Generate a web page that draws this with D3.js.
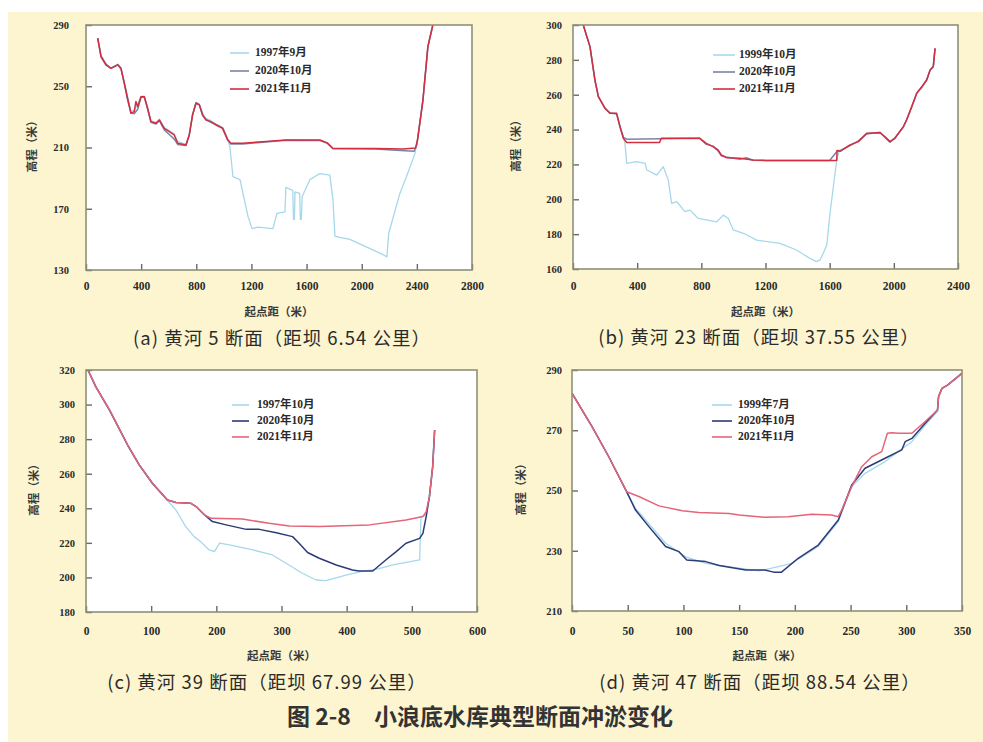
<!DOCTYPE html>
<html>
<head>
<meta charset="utf-8">
<script src="https://cdn.jsdelivr.net/npm/d3@7"></script>
<style>
  html, body { margin: 0; padding: 0; background: #ffffff; }
  svg { display: block; }
</style>
</head>
<body>
<div id="chart"></div>
<script>
// ---- cross-section profiles: [distance from start point (m), elevation (m)] ----

// (a) 黄河 5 断面
const secA_1997 = [[85,281],[109,268.5],[145,263.5],[181,262],[230,264.5],[254,262],[278,253],[302,243],[326,233.5],[350,234.5],[375,238],[399,243.5],[423,243.5],[447,236],[471,227.5],[508,226.3],[532,228.5],[568,223],[604,221],[640,219],[665,214],[725,212],[749,218.5],[773,231],[798,239.5],[822,238.5],[846,232.5],[870,229],[906,227.5],[943,225.2],[991,223],[1027,216],[1044,210],[1066,191],[1117,189],[1175,165],[1204,157],[1247,158],[1356,157],[1385,167],[1443,168],[1450,184],[1500,182],[1505,163],[1512,163],[1516,181],[1550,180],[1555,163],[1562,163],[1568,178],[1624,189],[1697,193],[1769,192],[1791,176],[1806,152],[1914,150],[2155,140],[2183,138.6],[2196,154],[2277,180],[2325,191],[2386,206],[2400,212],[2444,241.5],[2480,276.5],[2516,290]];
const secA_2020 = [[85,281.5],[109,269.8],[145,264.5],[181,261.7],[230,264],[254,261.2],[278,251.5],[302,241],[326,232.8],[350,232],[375,235],[399,242.8],[423,243],[447,235],[471,226.5],[508,225.3],[532,227.5],[568,221.5],[604,218.5],[640,215.5],[665,212],[725,211.3],[749,218],[773,231.5],[798,239.2],[822,238],[846,231],[870,228.3],[906,226.5],[943,225],[991,222.8],[1027,215.5],[1051,212.3],[1136,212.3],[1281,213.5],[1450,214.7],[1697,214.6],[1750,212.8],[1791,209.2],[2100,209],[2250,208.2],[2380,207.5],[2400,212],[2444,240.5],[2480,275.5],[2516,290]];
const secA_2021 = [[85,281.5],[109,269.3],[145,264],[181,261.7],[230,264],[254,261.7],[278,252],[302,242],[326,232.3],[350,233.4],[362,240],[375,236.7],[399,243.2],[423,243.2],[447,235.6],[471,226.9],[508,225.8],[532,228],[568,222.5],[604,220.3],[640,218.2],[665,212.8],[725,211.6],[749,218.2],[773,231.2],[798,238.9],[822,237.8],[846,231.2],[870,228],[906,226.9],[943,224.7],[991,222.5],[1027,214.9],[1051,212.8],[1136,212.8],[1281,213.8],[1450,214.9],[1697,214.9],[1750,213],[1791,209.5],[2100,209.3],[2300,209],[2390,209.6],[2405,215],[2444,241],[2480,276],[2516,290]];

// (b) 黄河 23 断面
const secB_1999 = [[64,300],[106,287.6],[137,268.4],[158,258.9],[200,252.2],[231,249.3],[272,249.3],[293,241.7],[314,236],[324,232],[335,220.6],[397,221.6],[449,220.6],[460,216.8],[522,213.9],[563,218.7],[594,211],[615,197.6],[647,198.6],[698,192.9],[729,193.8],[781,189],[896,187.1],[937,190.9],[968,189],[999,182.4],[1062,180.5],[1145,176.6],[1290,174.7],[1394,170.9],[1477,166.1],[1519,164.2],[1540,165.2],[1560,169],[1582,173.8],[1602,192],[1623,207.2],[1644,222.5],[1660,228],[1727,231],[1779,233.3],[1831,237.7],[1914,238.3],[1945,235.7],[1976,233],[2007,235.1],[2059,241.5],[2080,245.6],[2111,253],[2143,260.9],[2174,264.4],[2205,268.5],[2226,274.1],[2246,276.2],[2257,286.6]];
const secB_2020 = [[64,300],[106,287.3],[137,268],[158,259],[200,252],[231,249.5],[272,249],[293,241.5],[314,235.5],[335,234.5],[550,234.8],[790,235],[831,231.5],[873,230.5],[904,227.8],[925,225],[956,224.3],[1039,223],[1080,223.8],[1122,222.4],[1200,222.3],[1600,222.3],[1650,228],[1665,227.8],[1727,230.8],[1779,233.5],[1831,237.5],[1914,238.4],[1945,235.5],[1976,232.8],[2007,235.3],[2059,241.3],[2080,245.8],[2111,252.8],[2143,261],[2174,264.2],[2205,268.6],[2226,274],[2246,276.4],[2257,286.6]];
const secB_2021 = [[64,300],[106,287.6],[137,268.4],[158,258.9],[200,252.2],[231,249.3],[272,249.3],[293,241.7],[314,235],[335,232.6],[540,232.6],[550,235],[790,235],[831,232.1],[873,230.2],[904,228.3],[925,225.4],[956,223.9],[1039,223.5],[1122,222.6],[1200,222.3],[1644,222.3],[1646,228],[1665,227.5],[1727,231.2],[1779,233.1],[1831,237.9],[1914,238.2],[1945,235.9],[1976,233.1],[2007,235],[2059,241.7],[2080,245.5],[2111,253.1],[2143,260.8],[2174,264.6],[2205,268.4],[2226,274.2],[2246,276.1],[2257,286.6]];

// (c) 黄河 39 断面
const secC_1997 = [[3,320],[15,310],[36,296.5],[64,276],[82,264.5],[102,254],[125,244.5],[138,239],[153,229.4],[166,223.6],[176,220.7],[189,215.9],[197,214.9],[205,219.8],[220,218.8],[256,215.9],[286,213],[307,208.2],[332,202.4],[353,198.5],[368,198.2],[399,201.4],[425,203.7],[445,204.7],[471,207.2],[512,210.1],[514,235.2],[522,236],[527,246.7],[532,264.1],[535,285.3]];
const secC_2020 = [[3,320],[15,310.4],[36,296.9],[64,276.6],[82,265],[102,254.5],[125,244.8],[138,243.3],[161,242.9],[169,241],[182,236.1],[194,232.3],[215,230.4],[246,227.8],[266,227.8],[292,225.9],[317,223.6],[327,219.8],[340,214.4],[358,211.1],[384,207.2],[409,204.3],[419,203.7],[440,203.7],[460,210.1],[476,214.9],[491,219.8],[512,222.6],[517,225.5],[522,235.2],[527,246.7],[532,264.1],[535,285.3]];
const secC_2021 = [[3,320],[15,310.4],[36,296.9],[64,276.6],[82,265],[102,254.5],[125,244.8],[138,243.3],[161,242.9],[169,241],[182,236.1],[192,234.2],[240,233.8],[281,231.3],[312,229.8],[358,229.4],[435,230.4],[491,233.2],[517,235.2],[522,238.1],[527,246.7],[532,264.1],[535,285.3]];

// (d) 黄河 47 断面
const secD_1999 = [[0,282.3],[18,271.2],[33,261.2],[49,249.6],[57,244.1],[84,232.5],[102,228],[120,225.8],[150,224.2],[168,223.3],[185,224.7],[197,225.8],[221,231.4],[239,239.7],[251,251.3],[263,255.7],[281,259.6],[299,264.6],[305,266.2],[317,271.7],[328,276.2],[329,281.2],[332,283.9],[337,285],[348,288.3],[350,289]];
const secD_2020 = [[0,282.3],[18,271.2],[33,261.2],[49,249.6],[57,243.5],[69,238],[84,231.4],[96,229.7],[103,226.9],[120,226.4],[132,225.1],[156,223.6],[173,223.6],[181,222.9],[188,222.9],[203,227.5],[221,231.9],[239,240.2],[251,251.8],[263,257.4],[281,260.7],[296,263.5],[299,266.2],[305,267.3],[317,272.3],[328,276.7],[329,281.2],[332,283.9],[337,285],[348,288.3],[350,289]];
const secD_2021 = [[0,282.3],[18,271.2],[33,261.2],[49,249.6],[60,248],[78,244.9],[99,243.3],[114,242.7],[141,242.4],[150,241.9],[173,241.1],[194,241.3],[215,242.1],[233,241.9],[239,241.3],[242,243.5],[251,251.3],[260,257.9],[269,261.2],[278,262.9],[283,269],[287,269.2],[293,269],[305,269],[317,272.9],[328,276.7],[329,281.2],[332,283.9],[337,285],[348,288.3],[350,289]];

// ---- axis ticks ----
const ticksAx = [0, 400, 800, 1200, 1600, 2000, 2400, 2800];
const ticksAy = [130, 170, 210, 250, 290];
const ticksBx = [0, 400, 800, 1200, 1600, 2000, 2400];
const ticksBy = [160, 180, 200, 220, 240, 260, 280, 300];
const ticksCx = [0, 100, 200, 300, 400, 500, 600];
const ticksCy = [180, 200, 220, 240, 260, 280, 300, 320];
const ticksDx = [0, 50, 100, 150, 200, 250, 300, 350];
const ticksDy = [210, 230, 250, 270, 290];

// ---- labels ----
const legendA = ["1997年9月", "2020年10月", "2021年11月"];
const legendB = ["1999年10月", "2020年10月", "2021年11月"];
const legendC = ["1997年10月", "2020年10月", "2021年11月"];
const legendD = ["1999年7月", "2020年10月", "2021年11月"];
const subtitles = [
  "(a) 黄河 5 断面（距坝 6.54 公里）",
  "(b) 黄河 23 断面（距坝 37.55 公里）",
  "(c) 黄河 39 断面（距坝 67.99 公里）",
  "(d) 黄河 47 断面（距坝 88.54 公里）"
];
const xTitle = "起点距（米）";
const yTitle = "高程（米）";
const figureTitle = "图 2-8　小浪底水库典型断面冲淤变化";

const W = 983, H = 742;
const serif = "'Liberation Serif', 'Times New Roman', 'Noto Sans CJK SC', serif";
const cjk = "'Noto Sans CJK SC', 'Noto Sans', sans-serif";

const svg = d3.select("#chart").append("svg")
  .attr("width", W).attr("height", H);

svg.append("rect").attr("x", 0).attr("y", 0).attr("width", W).attr("height", H).attr("fill", "#ffffff");
svg.append("rect").attr("x", 8).attr("y", 12).attr("width", W - 8).attr("height", H - 12).attr("fill", "#fcf5d0");

const palLight = ["#a6d8ea", "#7a84a6", "#d42d40"];
const palDark = ["#a6d8ea", "#2d3a78", "#e56478"];

const panels = [
  { id: "a", box: [86, 472, 25, 270], xd: [0, 2800], yd: [130, 290], xt: ticksAx, yt: ticksAy,
    series: [secA_1997, secA_2020, secA_2021], legend: legendA, colors: palLight,
    leg: { x0: 230, x1: 249, tx: 255, y: [53, 71, 89] }, yGap: 17, yTitleX: 33,
    xLabY: 287, xTitleY: 313, subY: 340, subX: 282 },
  { id: "b", box: [573, 958, 25, 269], xd: [0, 2400], yd: [160, 300], xt: ticksBx, yt: ticksBy,
    series: [secB_1999, secB_2020, secB_2021], legend: legendB, colors: palLight,
    leg: { x0: 713, x1: 735, tx: 739, y: [55, 72, 89] }, yGap: 11, yTitleX: 517,
    xLabY: 287, xTitleY: 313, subY: 339, subX: 759 },
  { id: "c", box: [86, 477, 370, 612], xd: [0, 600], yd: [180, 320], xt: ticksCx, yt: ticksCy,
    series: [secC_1997, secC_2020, secC_2021], legend: legendC, colors: palDark,
    leg: { x0: 232, x1: 249, tx: 257, y: [405, 421, 437] }, yGap: 11, yTitleX: 35,
    xLabY: 632, xTitleY: 657, subY: 684, subX: 267 },
  { id: "d", box: [572, 962, 370, 611], xd: [0, 350], yd: [210, 290], xt: ticksDx, yt: ticksDy,
    series: [secD_1999, secD_2020, secD_2021], legend: legendD, colors: palDark,
    leg: { x0: 712, x1: 732, tx: 738, y: [405, 421, 437] }, yGap: 10, yTitleX: 522,
    xLabY: 632, xTitleY: 657, subY: 684, subX: 760 }
];

panels.forEach((p, i) => {
  const [L, R, T, B] = p.box;
  const x = d3.scaleLinear().domain(p.xd).range([L, R]);
  const y = d3.scaleLinear().domain(p.yd).range([B, T]);
  const g = svg.append("g").attr("class", "panel-" + p.id);

  // plotting area
  g.append("rect").attr("x", L).attr("y", T).attr("width", R - L).attr("height", B - T)
    .attr("fill", "#ffffff");

  g.append("clipPath").attr("id", "clip-" + p.id)
    .append("rect").attr("x", L).attr("y", T).attr("width", R - L).attr("height", B - T);

  // profiles
  const line = d3.line().x(d => x(d[0])).y(d => y(d[1]));
  const lines = g.append("g").attr("clip-path", `url(#clip-${p.id})`);
  p.series.forEach((s, k) => {
    lines.append("path").datum(s)
      .attr("d", line)
      .attr("fill", "none")
      .attr("stroke", p.colors[k])
      .attr("stroke-width", k === 0 ? 1.3 : 1.5)
      .attr("stroke-linejoin", "round");
  });

  // axes with inward ticks
  const xAxis = d3.axisBottom(x).tickValues(p.xt).tickSize(-6).tickPadding(10).tickFormat(d3.format("d"));
  const yAxis = d3.axisLeft(y).tickValues(p.yt).tickSize(-6).tickPadding(p.yGap).tickFormat(d3.format("d"));
  const gx = g.append("g").attr("transform", `translate(0,${B})`).call(xAxis);
  const gy = g.append("g").attr("transform", `translate(${L},0)`).call(yAxis);
  [gx, gy].forEach(ax => {
    ax.select(".domain").remove();
    ax.selectAll(".tick line").attr("stroke", "#6b6b5a").attr("stroke-width", 1.4);
    ax.selectAll(".tick text").attr("fill", "#2a2a2a")
      .style("font-family", serif).style("font-weight", "bold");
  });
  gx.selectAll(".tick text").style("font-size", "11.5px")
    .attr("y", null).attr("dy", null)
    .attr("transform", `translate(0,${p.xLabY - B})`)
    .attr("dominant-baseline", "middle");
  gy.selectAll(".tick text").style("font-size", "10.5px");

  // frame
  g.append("rect").attr("x", L).attr("y", T).attr("width", R - L).attr("height", B - T)
    .attr("fill", "none").attr("stroke", "#8f8f78").attr("stroke-width", 1.6);

  // axis titles
  g.append("text").attr("x", (L + R) / 2).attr("y", p.xTitleY)
    .attr("text-anchor", "middle").attr("dominant-baseline", "middle")
    .style("font-family", cjk).style("font-size", "11.5px").style("font-weight", "bold")
    .attr("fill", "#3a3a3a").text(xTitle);
  g.append("text")
    .attr("transform", `translate(${p.yTitleX},${(T + B) / 2 - 4}) rotate(-90)`)
    .attr("text-anchor", "middle").attr("dominant-baseline", "middle")
    .style("font-family", cjk).style("font-size", "11.5px").style("font-weight", "bold")
    .attr("fill", "#3a3a3a").text(yTitle);

  // legend
  p.legend.forEach((name, k) => {
    g.append("line").attr("x1", p.leg.x0).attr("x2", p.leg.x1)
      .attr("y1", p.leg.y[k]).attr("y2", p.leg.y[k])
      .attr("stroke", p.colors[k]).attr("stroke-width", 1.6);
    g.append("text").attr("x", p.leg.tx).attr("y", p.leg.y[k])
      .attr("dominant-baseline", "middle")
      .style("font-family", serif).style("font-size", "11.5px").style("font-weight", "bold")
      .attr("fill", "#2a2a2a").text(name);
  });

  // subtitle
  g.append("text").attr("x", p.subX).attr("y", p.subY)
    .attr("text-anchor", "middle").attr("dominant-baseline", "middle")
    .style("font-family", cjk).style("font-size", "18.5px").style("letter-spacing", "1px")
    .attr("fill", "#2b2b2b").text(subtitles[i]);
});

// figure caption
svg.append("text").attr("x", 480).attr("y", 719)
  .attr("text-anchor", "middle").attr("dominant-baseline", "middle")
  .style("font-family", cjk).style("font-size", "23px").style("font-weight", "bold")
  .attr("fill", "#333333").text(figureTitle);
</script>
</body>
</html>
